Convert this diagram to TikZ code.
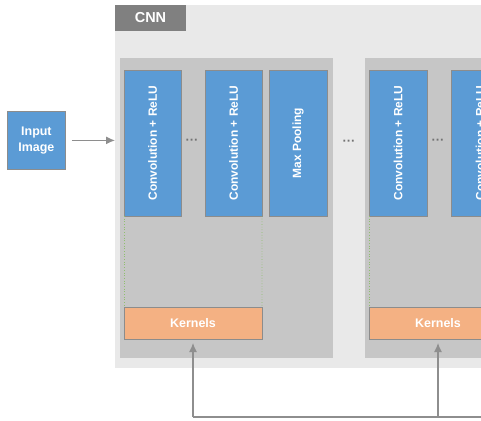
\documentclass[tikz,border=0pt]{standalone}
\usepackage{fontspec}
\setmainfont{Liberation Sans}
\usetikzlibrary{arrows.meta}
\definecolor{bluefill}{HTML}{5B9BD5}
\definecolor{orangefill}{HTML}{F4B183}
\definecolor{innergray}{HTML}{C6C6C6}
\definecolor{outergray}{HTML}{E9E9E9}
\definecolor{labelgray}{HTML}{808080}
\definecolor{edgegray}{HTML}{8C8C8C}
\definecolor{arrowgray}{HTML}{8E8E8E}
\definecolor{dotgreen}{HTML}{8FBF6E}
\definecolor{dotsgray}{HTML}{727272}
\tikzset{
  box/.style={anchor=north west, inner sep=0pt, outer sep=0pt, minimum width=#1},
  bluebox/.style={box=57bp, minimum height=146bp, fill=bluefill, draw=edgegray, line width=0.8bp,
    text=white, font=\bfseries\fontsize{12}{14}\selectfont},
  kernelbox/.style={box=138bp, minimum height=32bp, fill=orangefill, draw=edgegray, line width=0.8bp,
    text=white, font=\bfseries\fontsize{12.5}{14}\selectfont},
  panel/.style={box=213bp, minimum height=300bp, fill=innergray},
  dotsnode/.style={text=dotsgray, font=\bfseries\fontsize{13}{14}\selectfont, inner sep=0pt},
  arrow/.style={draw=arrowgray, line width=1.2bp, -{Latex[length=9bp,width=8bp]}},
  fbline/.style={draw=arrowgray, line width=1.2bp},
  guide/.style={draw=dotgreen, dotted, line width=0.7bp}
}
\newcommand{\mydots}{\char"00B7\char"00B7\char"00B7}
\begin{document}
\begin{tikzpicture}[x=1bp,y=-1bp]
\useasboundingbox (0,0) rectangle (481,420);
\clip (0,0) rectangle (481,420);
% outer CNN area
\node[box=400bp, minimum height=363bp, fill=outergray] (cnn) at (115,5) {};
\node[box=71bp, minimum height=26bp, fill=labelgray, text=white,
      font=\bfseries\fontsize{14.5}{16}\selectfont] (cnnlabel) at (115,5) {CNN};
% panels
\node[panel] (p1) at (120,58) {};
\node[panel] (p2) at (365,58) {};
% input
\node[anchor=north west, inner sep=0pt, minimum width=58bp, minimum height=58bp, fill=bluefill,
      draw=edgegray, line width=0.8bp, text=white, align=center,
      font=\bfseries\fontsize{12.5}{16}\selectfont] (input) at (7,111) {Input\\Image};
% blue boxes
\node[bluebox] (c1) at (124,70) {\rotatebox{90}{Convolution + ReLU}};
\node[bluebox] (c2) at (205,70) {\rotatebox{90}{Convolution + ReLU}};
\node[bluebox, minimum width=58bp] (mp) at (269,70) {\rotatebox{90}{Max Pooling}};
\node[bluebox, minimum width=58bp] (c3) at (369,70) {\rotatebox{90}{Convolution + ReLU}};
\node[bluebox, minimum width=58bp] (c4) at (451,70) {\rotatebox{90}{Convolution + ReLU}};
% dots
\node[dotsnode] (d1) at (192,142) {\mydots};
\node[dotsnode] (d2) at (349,143) {\mydots};
\node[dotsnode] (d3) at (438,142) {\mydots};
% kernels
\node[kernelbox] (k1) at (124,307) {Kernels};
\node[kernelbox] (k2) at (369,307) {Kernels};
% guides
\draw[guide] (c1.south west) -- (k1.north west);
\draw[guide] (c2.south east) -- (k1.north east);
\draw[guide] (c3.south west) -- (k2.north west);
% arrows
\draw[arrow, shorten <=6bp] (input.east) -- (input.east -| cnn.west);
\coordinate (fbL) at (k1.south |- 0,417);
\coordinate (fbR) at (490,417);
\draw[fbline] (fbL) -- (fbR);
\draw[arrow, shorten >=4bp] (fbL) -- (k1.south);
\draw[arrow, shorten >=4bp] (k2.south |- fbL) -- (k2.south);
\end{tikzpicture}
\end{document}
